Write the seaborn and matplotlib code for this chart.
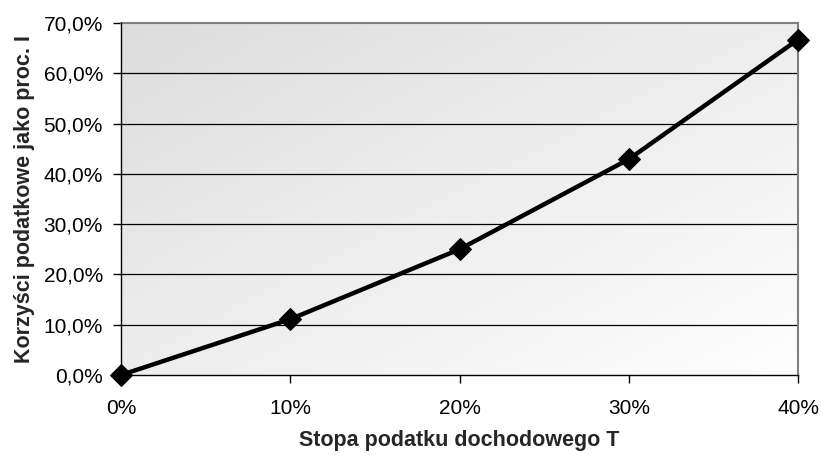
import numpy as np
import pandas as pd
import matplotlib
matplotlib.use("Agg")
import matplotlib.pyplot as plt
import seaborn as sns
from matplotlib.ticker import FuncFormatter
from matplotlib.colors import LinearSegmentedColormap

# Income tax rate T and tax benefit as a percentage of I
tax_rate = [0.0, 0.10, 0.20, 0.30, 0.40]
benefit = [0.0, 0.111, 0.250, 0.429, 0.667]
x_label = "Stopa podatku dochodowego T"
y_label = "Korzyści podatkowe jako proc. I"

sns.set_theme(style="white")
plt.rcParams["font.family"] = ["Liberation Sans", "DejaVu Sans"]

df = pd.DataFrame({"T": tax_rate, "B": benefit})

fig = plt.figure(figsize=(8.21, 4.55), dpi=100)
ax = fig.add_axes([0.1474, 0.1758, 0.8246, 0.7737])

# Diagonal grey-to-white background gradient (darker top-left, lighter bottom-right)
n = 256
xx, yy = np.meshgrid(np.linspace(0, 1, n), np.linspace(0, 1, n))
grad = (xx + yy) / 2.0
cmap = LinearSegmentedColormap.from_list("bg", ["#dddddd", "#fefefe"])
ax.imshow(grad, cmap=cmap, extent=[0, 1, 0, 1], transform=ax.transAxes,
          aspect="auto", origin="upper", zorder=0, interpolation="bilinear")

sns.lineplot(data=df, x="T", y="B", ax=ax, color="black", linewidth=3.2,
             marker="D", markersize=11, markeredgecolor="black",
             markerfacecolor="black", zorder=5, clip_on=False)

ax.set_xlim(0, 0.40)
ax.set_ylim(0, 0.70)
ax.set_xticks(tax_rate)
ax.set_yticks(np.arange(0, 0.71, 0.10))
ax.xaxis.set_major_formatter(FuncFormatter(lambda v, p: f"{v*100:.0f}%"))
ax.yaxis.set_major_formatter(FuncFormatter(lambda v, p: f"{v*100:.1f}%".replace(".", ",")))

for yv in np.arange(0.10, 0.70, 0.10):
    ax.axhline(yv, color="black", linewidth=0.9, zorder=1)

for side in ["top", "right"]:
    ax.spines[side].set_color("#808080")
    ax.spines[side].set_linewidth(1.5)
for side in ["left", "bottom"]:
    ax.spines[side].set_color("black")
    ax.spines[side].set_linewidth(1.0)
    ax.spines[side].set_zorder(3)

ax.tick_params(axis="both", which="major", direction="out", length=6, width=1,
               color="black", labelsize=15, labelcolor="black", bottom=True, left=True)
ax.tick_params(axis="x", pad=11)
ax.tick_params(axis="y", pad=7)

ax.set_xlabel(x_label, fontsize=15.5, fontweight="bold", labelpad=9)
ax.set_ylabel(y_label, fontsize=15.5, fontweight="bold", labelpad=6)

fig.savefig("out.png", dpi=100)
